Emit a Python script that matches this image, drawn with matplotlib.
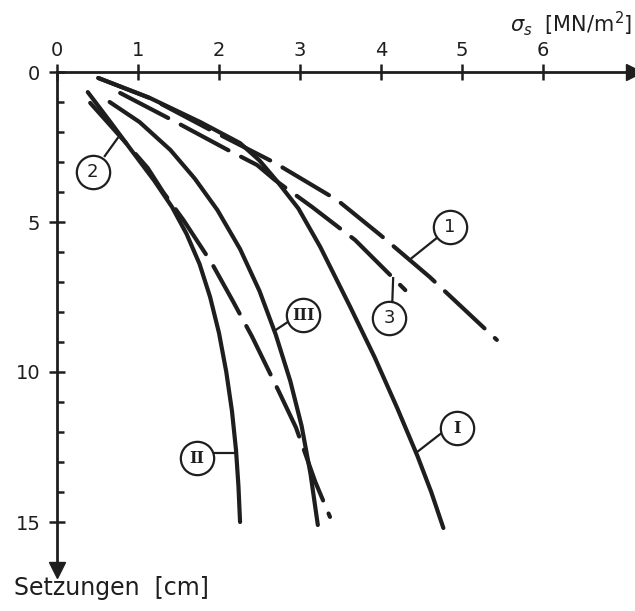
import matplotlib
matplotlib.use("Agg")
import matplotlib.pyplot as plt

# ---------------- data ----------------
# sigma_s [MN/m^2] and settlement [cm]
I_sigma = [0.51, 1.15, 1.77, 2.26, 2.50, 2.72, 2.98, 3.25, 3.62, 3.92, 4.20, 4.45, 4.62, 4.77]
I_settle = [0.20, 0.87, 1.67, 2.37, 2.95, 3.65, 4.55, 5.83, 7.83, 9.50, 11.20, 12.80, 14.00, 15.20]

II_sigma = [0.38, 0.66, 0.93, 1.20, 1.42, 1.60, 1.76, 1.89, 2.00, 2.09, 2.16, 2.21, 2.24, 2.26]
II_settle = [0.67, 1.67, 2.65, 3.62, 4.50, 5.40, 6.40, 7.50, 8.70, 10.00, 11.30, 12.60, 13.80, 15.00]

III_sigma = [0.65, 1.02, 1.40, 1.70, 1.98, 2.26, 2.50, 2.70, 2.88, 3.02, 3.13, 3.22]
III_settle = [1.00, 1.67, 2.60, 3.55, 4.60, 5.90, 7.30, 8.75, 10.30, 11.80, 13.40, 15.10]

c1_sigma = [0.51, 1.15, 1.85, 2.67, 3.00, 3.46, 3.99, 4.60, 5.43]
c1_settle = [0.20, 0.87, 1.87, 3.00, 3.53, 4.27, 5.43, 6.83, 8.93]

c2_sigma = [0.41, 0.84, 1.12, 1.31, 1.56, 1.91, 2.17, 2.41, 2.73, 2.95, 3.19, 3.37]
c2_settle = [1.03, 2.33, 3.20, 4.00, 4.93, 6.37, 7.63, 8.83, 10.60, 11.85, 13.67, 14.83]

c3_sigma = [0.78, 1.42, 2.11, 2.47, 2.69, 3.15, 3.68, 4.30]
c3_settle = [0.70, 1.60, 2.60, 3.10, 3.60, 4.50, 5.60, 7.27]

x_ticks = [0, 1, 2, 3, 4, 5, 6]
y_major = [0, 5, 10, 15]
y_minor = list(range(0, 16))

# label: (circle centre, leader start on curve, leader end at circle)
labels = {
    "1":   ((4.85, 5.17), (4.38, 6.20), (4.69, 5.53)),
    "3":   ((4.10, 8.20), (4.15, 6.87), (4.14, 7.63)),
    "2":   ((0.44, 3.33), (0.75, 2.20), (0.59, 2.80)),
    "III": ((3.04, 8.10), (2.70, 8.60), (2.84, 8.35)),
    "II":  ((1.73, 12.87), (2.21, 12.70), (1.93, 12.70)),
    "I":   ((4.94, 11.87), (4.43, 12.70), (4.74, 12.05)),
}

# ---------------- figure ----------------
W, H = 635, 611
fig = plt.figure(figsize=(W / 100, H / 100), dpi=100)
x0px, y0px, xrpx, ybpx = 57, 72, 634, 570
ax = fig.add_axes([x0px / W, 1 - ybpx / H, (xrpx - x0px) / W, (ybpx - y0px) / H])
ax.set_xlim(0, (xrpx - x0px) / 81)
ax.set_ylim((ybpx - y0px) / 30, 0)

ink = "#1e1e1e"
for s in ["right", "bottom"]:
    ax.spines[s].set_visible(False)
for s in ["top", "left"]:
    ax.spines[s].set_linewidth(2.0)
    ax.spines[s].set_color(ink)

ax.xaxis.tick_top()
ax.set_xticks(x_ticks)
ax.set_xticklabels([str(v) for v in x_ticks])
ax.set_yticks(y_major)
ax.set_yticklabels([str(v) for v in y_major])
ax.set_yticks(y_minor, minor=True)
ax.tick_params(axis="x", which="major", direction="inout", length=11, width=1.8,
               colors=ink, labelsize=14, pad=3)
ax.tick_params(axis="y", which="major", direction="inout", length=12, width=1.8,
               colors=ink, labelsize=14, pad=6)
ax.tick_params(axis="y", which="minor", direction="in", length=5, width=1.8, colors=ink)

# arrow heads
ax.plot(1, 1, marker=">", ms=11, color=ink, transform=ax.transAxes, clip_on=False)
ax.plot(0, 0, marker="v", ms=11, color=ink, transform=ax.transAxes, clip_on=False)

lw = 3.0
dash = (13, 3.4)
ax.plot(I_sigma, I_settle, color=ink, lw=lw, solid_capstyle="round", solid_joinstyle="round")
ax.plot(II_sigma, II_settle, color=ink, lw=lw, solid_capstyle="round", solid_joinstyle="round")
ax.plot(III_sigma, III_settle, color=ink, lw=lw, solid_capstyle="round", solid_joinstyle="round")
ax.plot(c1_sigma, c1_settle, color=ink, lw=lw, dashes=dash, dash_capstyle="round")
ax.plot(c2_sigma, c2_settle, color=ink, lw=lw, dashes=dash, dash_capstyle="round")
ax.plot(c3_sigma, c3_settle, color=ink, lw=lw, dashes=dash, dash_capstyle="round")

for txt, (centre, p0, p1) in labels.items():
    ax.plot([p0[0], p1[0]], [p0[1], p1[1]], color=ink, lw=1.6)
    ax.plot(centre[0], centre[1], marker="o", ms=24, mfc="white", mec=ink, mew=1.6,
            zorder=5)
    if txt.isdigit():
        ax.text(centre[0], centre[1], txt, ha="center", va="center", fontsize=13,
                color=ink, zorder=6)
    else:
        ax.text(centre[0], centre[1], txt, ha="center", va="center", fontsize=11.5,
                family="DejaVu Serif", weight="bold", color=ink, zorder=6)

fig.text(632 / W, 1 - 24 / H, r"$\sigma_s$  [MN/m$^2$]", ha="right", va="center",
         fontsize=15, color=ink)
fig.text(14 / W, 1 - 588 / H, "Setzungen  [cm]", ha="left", va="center",
         fontsize=17, color=ink)

fig.savefig("out.png", dpi=100, facecolor="white")
